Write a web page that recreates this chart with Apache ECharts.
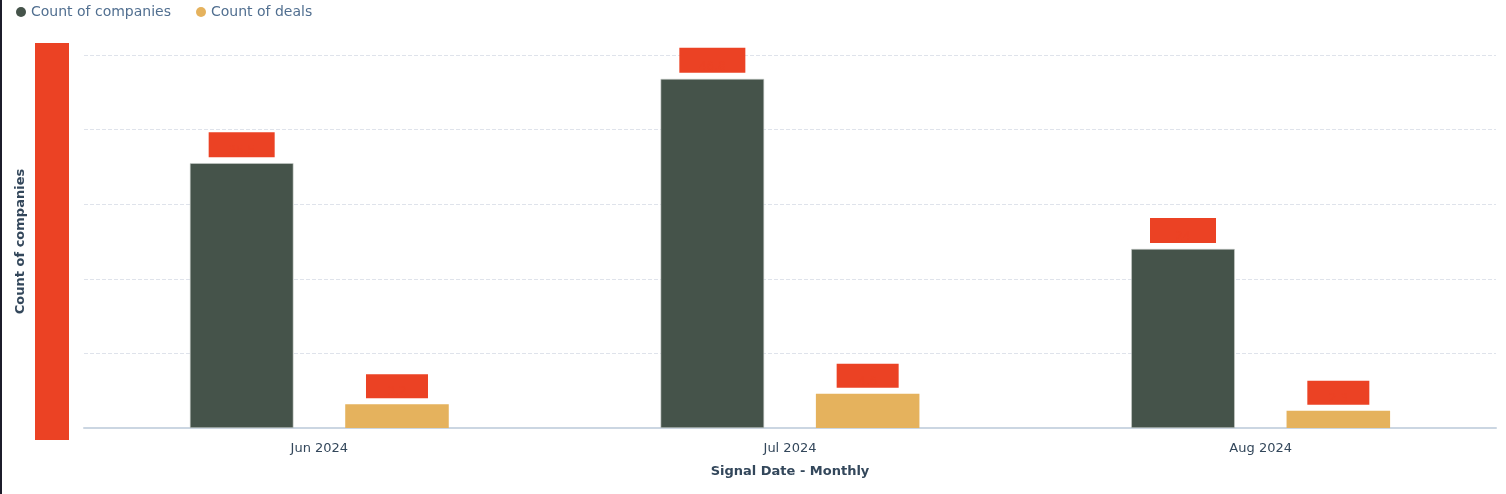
<!DOCTYPE html>
<html><head><meta charset="utf-8">
<script src="https://cdn.jsdelivr.net/npm/echarts@6/dist/echarts.min.js"></script>
<style>html,body{margin:0;padding:0;background:#fff;}#c{width:1504px;height:494px;border-left:2px solid #1c1c2a;}</style>
</head><body><div id="c"></div>
<script>
const categories = ['Jun 2024', 'Jul 2024', 'Aug 2024'];
const companies = [35.5, 46.8, 24.0];
const deals = [3.2, 4.6, 2.3];
const yMax = 50, yInterval = 10;

const RED = '#eb4224';
const redLabel = {
  show: true, position: 'top', distance: 6,
  formatter: '{c}', color: RED, backgroundColor: RED,
  width: 66, height: 25, padding: 0
};
const chart = echarts.init(document.getElementById('c'));
chart.setOption({
  animation: false,
  textStyle: { fontFamily: '"DejaVu Sans", sans-serif' },
  legend: {
    left: 9, top: 0, icon: 'circle', itemWidth: 10, itemHeight: 10, itemGap: 25,
    itemStyle: { borderWidth: 0 },
    textStyle: { color: '#516f90', fontSize: 14 }
  },
  grid: { left: 82, right: 10, top: 55, bottom: 66 },
  xAxis: {
    type: 'category', data: categories,
    name: 'Signal Date - Monthly', nameLocation: 'middle', nameGap: 37,
    nameTextStyle: { color: '#33475b', fontSize: 13, fontWeight: 'bold' },
    axisLine: { lineStyle: { color: '#cbd6e2', width: 2 } },
    axisTick: { show: false },
    axisLabel: { color: '#33475b', fontSize: 13, margin: 14 }
  },
  yAxis: {
    type: 'value', min: 0, max: yMax, interval: yInterval,
    name: 'Count of companies', nameLocation: 'middle', nameGap: 57,
    nameTextStyle: { color: '#33475b', fontSize: 13, fontWeight: 'bold' },
    axisLabel: { show: false },
    splitLine: { lineStyle: { color: '#dfe3eb', type: 'dashed' } }
  },
  series: [
    { name: 'Count of companies', type: 'bar', data: companies, barGap: '50%', barCategoryGap: '45%',
      itemStyle: { color: '#45534a', borderColor: '#c9cfcb', borderWidth: 0.6 }, label: redLabel },
    { name: 'Count of deals', type: 'bar', data: deals,
      itemStyle: { color: '#e5b25d' }, label: Object.assign({}, redLabel, { width: 62, height: 24 }) }
  ],
  graphic: [
    { type: 'rect', left: 33, top: 43, shape: { width: 34, height: 397 }, style: { fill: RED } }
  ]
});
</script></body></html>
